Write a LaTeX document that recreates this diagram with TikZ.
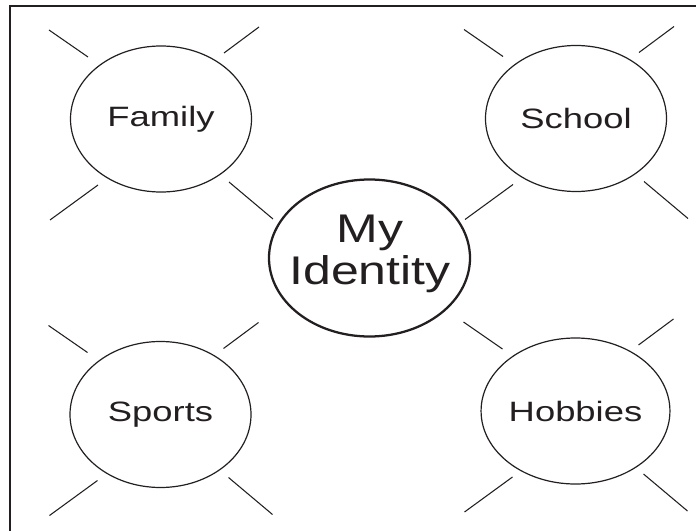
\documentclass[tikz,border=0pt]{standalone}
\usepackage{fontspec}
\setmainfont{Liberation Sans}
\usepackage{graphicx}
\usepackage{tikz}
\usetikzlibrary{shapes.geometric,calc}
\definecolor{inkblack}{RGB}{35, 31, 32}
\newcommand{\wideword}[2]{\scalebox{#1}[1]{#2}}

\begin{document}
\begin{tikzpicture}[
        x=0.75pt, y=-0.75pt,
        topic/.style={ellipse, draw=inkblack, line width=0.9pt, minimum width=181*0.75pt, minimum height=146*0.75pt, inner sep=0pt, text=inkblack, font=\fontsize{21}{24}\selectfont},
        core/.style={ellipse, draw=inkblack, line width=1.7pt, minimum width=201*0.75pt, minimum height=157*0.75pt, inner sep=0pt},
        coretext/.style={inner sep=0pt, text=inkblack, align=center, font=\fontsize{30}{31.5}\selectfont},
        spoke/.style={draw=inkblack, line width=0.8pt},
        frame/.style={draw=inkblack, line width=0.8pt}
    ]
    \useasboundingbox (0,0) rectangle (696,531);

    % Frame - only top and left edges show
    \coordinate (frametl) at (10,6);
    \coordinate (frametr) at (696,6);
    \coordinate (framebl) at (10,531);
    \draw[frame] (frametr) -- (frametl) -- (framebl);

    % Central topic
    \node[core] (identity) at (369.5, 258) {};
    \node[coretext] (identitytext) at (370, 253.5) {\wideword{1.25}{My}\\ \wideword{1.25}{Identity}};

    % Surrounding topics
    \node[topic] (family) at (161, 119) {\wideword{1.3}{Family}};
    \node[topic] (school) at (576, 118.5) {\wideword{1.3}{School}};
    \node[topic] (sports) at (160.5, 414.5) {\wideword{1.3}{Sports}};
    \node[topic] (hobbies) at (575.5, 411) {\wideword{1.3}{Hobbies}};

    % Spokes around each topic
    \foreach \n in {family, school, sports, hobbies}
        \foreach \ax/\ay/\bx/\by in {-73/-62/-112/-89, 63/-66/98/-92, -63/66/-111/101, 68/63/112/100}
            \draw[spoke] ($(\n)+(\ax,\ay)$) -- ($(\n)+(\bx,\by)$);

    \end{tikzpicture}
\end{document}
